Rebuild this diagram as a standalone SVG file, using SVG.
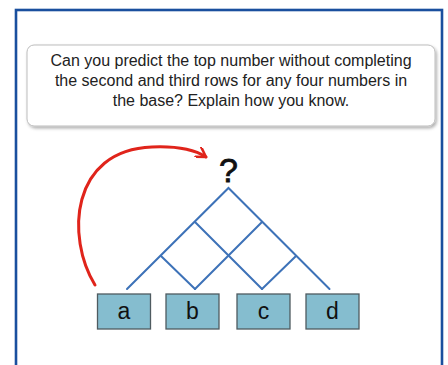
<svg xmlns="http://www.w3.org/2000/svg" width="448" height="365" viewBox="0 0 448 365">
  <defs>
    <filter id="sh" x="-5%" y="-10%" width="115%" height="130%">
      <feDropShadow dx="1.5" dy="2" stdDeviation="1.5" flood-color="#000" flood-opacity="0.3"/>
    </filter>
    <marker id="chev" viewBox="0 0 12 12" refX="10" refY="6" markerWidth="12" markerHeight="12" markerUnits="userSpaceOnUse" orient="auto">
      <path d="M1,0.5 L10,6 L1,11.5" fill="none" stroke="#e0241b" stroke-width="2.6" stroke-linecap="round" stroke-linejoin="round"/>
    </marker>
  </defs>
  <style>
    .frame { fill: #fff; stroke: #1a4f9e; stroke-width: 2.6; }
    .callout { fill: #fff; stroke: #bdbdbd; stroke-width: 1; }
    .q { font-family: "Liberation Sans", Arial, sans-serif; font-size: 16px; fill: #222; text-anchor: middle; }
    .tree { stroke: #3d72b8; stroke-width: 2; fill: none; stroke-linecap: round; }
    .box { fill: #85bdcf; stroke: #4f5b60; stroke-width: 1.3; }
    .lbl { font-family: "Liberation Sans", Arial, sans-serif; font-size: 23px; fill: #111; text-anchor: middle; }
    .arc { stroke: #e0241b; stroke-width: 3; fill: none; stroke-linecap: round; }
  </style>
  <rect width="448" height="365" fill="#fff"/>
  <rect class="frame" x="16" y="10" width="426" height="380"/>
  <g id="callout">
    <rect class="callout" x="27" y="45" width="408" height="81" rx="7" filter="url(#sh)"/>
    <text class="q" x="231" y="66">Can you predict the top number without completing</text>
    <text class="q" x="231" y="86">the second and third rows for any four numbers in</text>
    <text class="q" x="231" y="106">the base? Explain how you know.</text>
  </g>
  <g id="top">
    <text x="228.5" y="182" font-family="Liberation Sans, Arial, sans-serif" font-size="34" fill="#111" text-anchor="middle" stroke="#111" stroke-width="0.8">?</text>
  </g>
  <g id="connectors">
    <path class="tree" d="M127,289 L228.5,188 L329.5,289"/>
    <path class="tree" d="M195,222 L262,289"/>
    <path class="tree" d="M262,222 L195,289"/>
    <path class="tree" d="M161,256 L195,289"/>
    <path class="tree" d="M296,256 L262,289"/>
    <path class="arc" d="M95,285 C66,238 70,150 152,147 C176,146 195,150 206,157" marker-end="url(#chev)"/>
  </g>
  <g id="node-a">
    <rect class="box" x="97.5" y="294" width="53" height="35"/>
    <text class="lbl" x="124" y="319">a</text>
  </g>
  <g id="node-b">
    <rect class="box" x="166" y="294" width="53" height="35"/>
    <text class="lbl" x="192.5" y="319">b</text>
  </g>
  <g id="node-c">
    <rect class="box" x="237" y="294" width="53" height="35"/>
    <text class="lbl" x="263.5" y="319">c</text>
  </g>
  <g id="node-d">
    <rect class="box" x="306" y="294" width="53" height="35"/>
    <text class="lbl" x="332.5" y="319">d</text>
  </g>
</svg>
